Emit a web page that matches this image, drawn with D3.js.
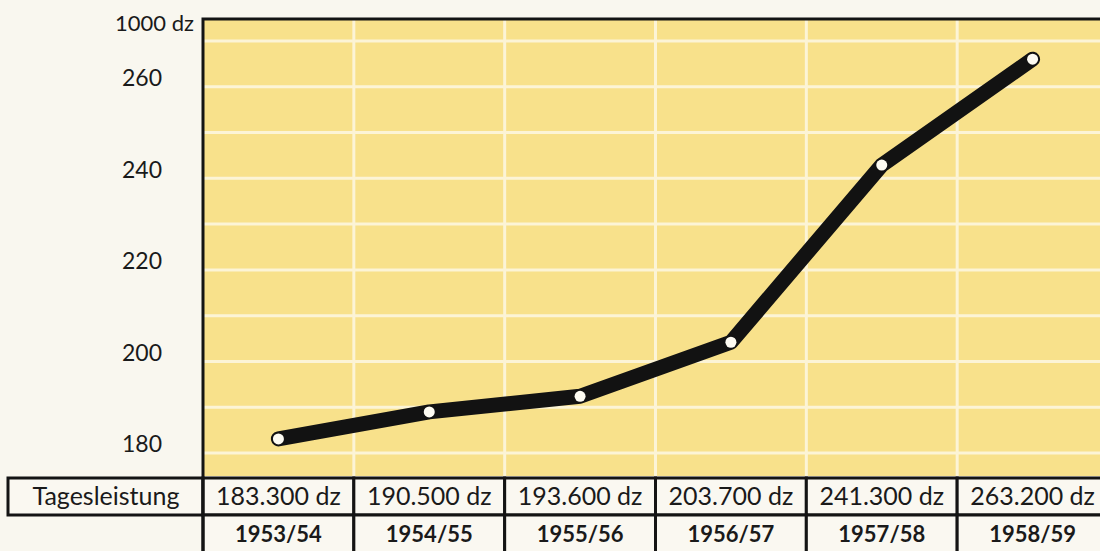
<!DOCTYPE html>
<html>
<head>
<meta charset="utf-8">
<script src="https://cdn.jsdelivr.net/npm/d3@7"></script>
<style>
    body { margin: 0; background: #f9f7ef; }
    svg { display: block; font-family: Lato, 'Open Sans', sans-serif; }
    .grid line { stroke: #fcf4d6; stroke-width: 3; }
    .frame { stroke: #141414; stroke-width: 3; fill: none; }
    .cell { fill: #faf8f1; stroke: #141414; stroke-width: 3; }
</style>
</head>
<body>
<svg id="chart" width="1100" height="551"></svg>
<script>

var seasons = ['1953/54', '1954/55', '1955/56', '1956/57', '1957/58', '1958/59']
var tagesleistung = ['183.300 dz', '190.500 dz', '193.600 dz', '203.700 dz', '241.300 dz', '263.200 dz']
// where the line is actually drawn in the picture (in 1000 dz), which is a bit off the printed figures
var plotted = [183.1, 189.0, 192.4, 204.2, 242.9, 266.0]
var tickLabels = [180, 200, 220, 240, 260]
var gridValues = [180, 190, 200, 210, 220, 230, 240, 250, 260, 270]
var unitLabel = '1000 dz'
var rowLabel = 'Tagesleistung'

var width = 1100
var height = 551
var plotLeft = 203
var plotTop = 19
var plotBottom = 476
var tableTop = 478
var rowHeight = 37

var svg = d3.select('#chart')

var xScale = d3.scaleBand()
    .domain(d3.range(seasons.length))
    .range([plotLeft, 1108])

var yScale = d3.scaleLinear()
    .domain([175, 275])
    .range([plotBottom, plotTop - 1])

// yellow plot area
svg.append('rect')
    .attr('x', plotLeft)
    .attr('y', plotTop)
    .attr('width', width - plotLeft)
    .attr('height', plotBottom - plotTop)
    .attr('fill', '#f8e18b')

var grid = svg.append('g').attr('class', 'grid')

grid.selectAll('line.h')
    .data(gridValues)
    .enter()
    .append('line')
    .attr('class', 'h')
    .attr('x1', plotLeft)
    .attr('x2', width)
    .attr('y1', yScale)
    .attr('y2', yScale)

grid.selectAll('line.v')
    .data(d3.range(1, seasons.length))
    .enter()
    .append('line')
    .attr('class', 'v')
    .attr('x1', xScale)
    .attr('x2', xScale)
    .attr('y1', plotTop)
    .attr('y2', plotBottom)

// y axis, labels only
var yAxis = d3.axisLeft(yScale)
    .tickValues(tickLabels)
    .tickSize(0)
    .tickPadding(41)

var yAxisElement = svg.append('g')
    .attr('transform', 'translate(' + plotLeft + ', 0)')
    .call(yAxis)

yAxisElement
    .attr('font-family', null)
    .attr('font-size', null)

yAxisElement.select('.domain').remove()
yAxisElement.selectAll('text')
    .attr('dy', '-0.05em')
    .attr('font-size', 23)
    .attr('fill', '#1a1a1a')

svg.append('text')
    .attr('x', 194)
    .attr('y', 31)
    .attr('text-anchor', 'end')
    .attr('font-size', 22)
    .attr('fill', '#1a1a1a')
    .text(unitLabel)

// the line
var line = d3.line()
    .x(function (_, i) { return xScale(i) + xScale.bandwidth() / 2 })
    .y(function (d) { return yScale(d) })

svg.append('path')
    .datum(plotted)
    .attr('d', line)
    .attr('fill', 'none')
    .attr('stroke', '#121212')
    .attr('stroke-width', 15)
    .attr('stroke-linejoin', 'round')
    .attr('stroke-linecap', 'round')

svg.selectAll('circle.point')
    .data(plotted)
    .enter()
    .append('circle')
    .attr('class', 'point')
    .attr('cx', function (_, i) { return xScale(i) + xScale.bandwidth() / 2 })
    .attr('cy', yScale)
    .attr('r', 5.5)
    .attr('fill', '#fdfbf2')

// table below
var table = svg.append('g')

table.append('rect')
    .attr('class', 'cell')
    .attr('x', 8)
    .attr('y', tableTop)
    .attr('width', plotLeft - 8)
    .attr('height', rowHeight)

table.selectAll('rect.value')
    .data(tagesleistung)
    .enter()
    .append('rect')
    .attr('class', 'cell value')
    .attr('x', function (_, i) { return xScale(i) })
    .attr('y', tableTop)
    .attr('width', xScale.bandwidth())
    .attr('height', rowHeight)

table.selectAll('rect.season')
    .data(seasons)
    .enter()
    .append('rect')
    .attr('class', 'cell season')
    .attr('x', function (_, i) { return xScale(i) })
    .attr('y', tableTop + rowHeight)
    .attr('width', xScale.bandwidth())
    .attr('height', rowHeight + 4)

table.append('text')
    .attr('x', 106)
    .attr('y', tableTop + 27)
    .attr('text-anchor', 'middle')
    .attr('font-size', 25)
    .attr('fill', '#1a1a1a')
    .text(rowLabel)

table.selectAll('text.value')
    .data(tagesleistung)
    .enter()
    .append('text')
    .attr('class', 'value')
    .attr('x', function (_, i) { return xScale(i) + xScale.bandwidth() / 2 })
    .attr('y', tableTop + 27)
    .attr('text-anchor', 'middle')
    .attr('font-size', 25)
    .attr('fill', '#1a1a1a')
    .text(function (d) { return d })

table.selectAll('text.season')
    .data(seasons)
    .enter()
    .append('text')
    .attr('class', 'season')
    .attr('x', function (_, i) { return xScale(i) + xScale.bandwidth() / 2 })
    .attr('y', tableTop + rowHeight + 27)
    .attr('text-anchor', 'middle')
    .attr('font-size', 22)
    .attr('font-weight', 'bold')
    .attr('fill', '#1a1a1a')
    .text(function (d) { return d })

// frame: top and left of the plot
svg.append('path')
    .attr('class', 'frame')
    .attr('d', 'M' + width + ',' + plotTop + 'H' + plotLeft + 'V' + height)

</script>
</body>
</html>
